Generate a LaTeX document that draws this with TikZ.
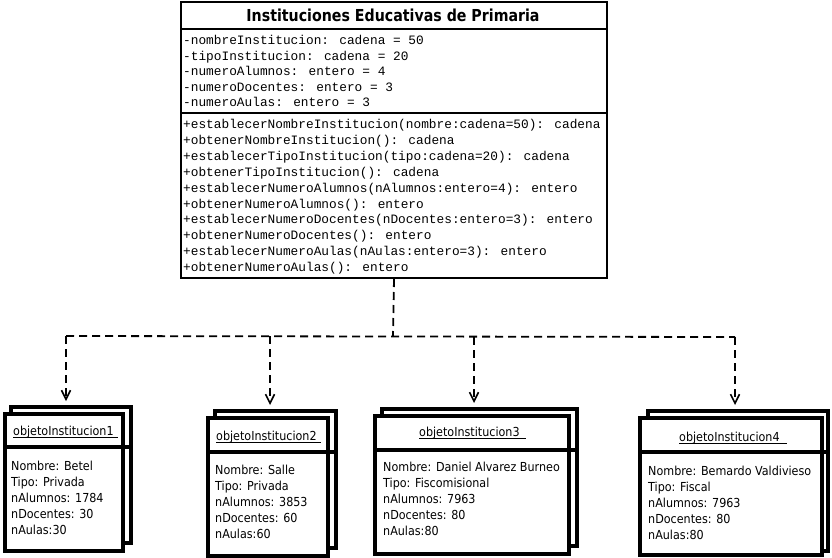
\documentclass[tikz,border=0pt]{standalone}
\usepackage{fontspec}
\usetikzlibrary{arrows.meta}
\newfontfamily\ttf{Liberation Mono}
\newfontfamily\sff[FakeStretch=0.9]{DejaVu Sans}
\newfontfamily\hdf[FakeStretch=0.86]{DejaVu Sans Bold}
\begin{document}
\begin{tikzpicture}[x=1pt,y=-1pt,
  clsbox/.style={draw, line width=2pt, fill=white, inner sep=0, anchor=north west},
  objbox/.style={draw, line width=4pt, fill=white, inner sep=0, anchor=north west},
  mono/.style={font=\ttf\fontsize{12.8}{15}\selectfont, anchor=base west, inner sep=0},
  otxt/.style={font=\sff\fontsize{12.4}{16}\selectfont, anchor=base west, inner sep=0, align=left},
  otitle/.style={font=\sff\fontsize{12.4}{16}\selectfont, anchor=base west, inner sep=0},
  dashline/.style={line width=1.8pt, dash pattern=on 8pt off 5pt},
  dep/.style={dashline, shorten >=4pt, -{Straight Barb[length=9pt,width=9pt,line width=1.6pt]}}
]
\useasboundingbox[fill=white] (0,0) rectangle (832,557);

% ---------- class box ----------
\node[clsbox, minimum width=426pt, minimum height=276pt] (cls) at (180,1) {};
\draw[line width=2pt] (cls.west |- 0,29) -- (cls.east |- 0,29);
\draw[line width=2pt] (cls.west |- 0,113) -- (cls.east |- 0,113);
\node[font=\hdf\fontsize{16.5}{18}\selectfont, anchor=base, inner sep=0] (ttl) at (393,21) {Instituciones Educativas de Primaria};

\node[mono] (a1) at (183,44.5) {-nombreInstitucion: cadena = 50};
\node[mono] (a2) at (183,60) {-tipoInstitucion: cadena = 20};
\node[mono] (a3) at (183,75.5) {-numeroAlumnos: entero = 4};
\node[mono] (a4) at (183,91) {-numeroDocentes: entero = 3};
\node[mono] (a5) at (183,106.5) {-numeroAulas: entero = 3};

\node[mono] (m1) at (183,128.5) {+establecerNombreInstitucion(nombre:cadena=50): cadena};
\node[mono] (m2) at (183,144.4) {+obtenerNombreInstitucion(): cadena};
\node[mono] (m3) at (183,160.3) {+establecerTipoInstitucion(tipo:cadena=20): cadena};
\node[mono] (m4) at (183,176.2) {+obtenerTipoInstitucion(): cadena};
\node[mono] (m5) at (183,192.1) {+establecerNumeroAlumnos(nAlumnos:entero=4): entero};
\node[mono] (m6) at (183,208) {+obtenerNumeroAlumnos(): entero};
\node[mono] (m7) at (183,223.9) {+establecerNumeroDocentes(nDocentes:entero=3): entero};
\node[mono] (m8) at (183,239.8) {+obtenerNumeroDocentes(): entero};
\node[mono] (m9) at (183,255.7) {+establecerNumeroAulas(nAulas:entero=3): entero};
\node[mono] (m10) at (183,271.6) {+obtenerNumeroAulas(): entero};

% ---------- object boxes ----------
% box 1
\node[objbox, minimum width=120pt, minimum height=136pt] (b1back) at (9,405) {};
\node[objbox, minimum width=118pt, minimum height=137pt] (b1) at (3,412) {};
\draw[line width=3.5pt] (b1.west |- 0,447) -- (b1back.east |- 0,447);
\node[otitle] (t1) at (13,435) {objetoInstitucion1};
\draw[line width=0.8pt] ([yshift=-2.5pt]t1.base west) -- ++(105,0);
\node[otxt] (o1) at (11,534) {Nombre: Betel\\Tipo: Privada\\nAlumnos: 1784\\nDocentes: 30\\nAulas:30};

% box 2
\node[objbox, minimum width=121pt, minimum height=137pt] (b2back) at (213,409) {};
\node[objbox, minimum width=120pt, minimum height=138pt] (b2) at (206,416) {};
\draw[line width=3.5pt] (b2.west |- 0,452) -- (b2back.east |- 0,452);
\node[otitle] (t2) at (216,440) {objetoInstitucion2};
\draw[line width=0.8pt] ([yshift=-2.5pt]t2.base west) -- ++(105,0);
\node[otxt] (o2) at (215,538) {Nombre: Salle\\Tipo: Privada\\nAlumnos: 3853\\nDocentes: 60\\nAulas:60};

% box 3
\node[objbox, minimum width=195pt, minimum height=137pt] (b3back) at (380,407) {};
\node[objbox, minimum width=194pt, minimum height=138pt] (b3) at (373,414) {};
\draw[line width=3.5pt] (b3.west |- 0,450) -- (b3back.east |- 0,450);
\node[otitle] (t3) at (419,436) {objetoInstitucion3};
\draw[line width=0.8pt] ([yshift=-2.5pt]t3.base west) -- ++(107,0);
\node[otxt] (o3) at (383,535) {Nombre: Daniel Alvarez Burneo\\Tipo: Fiscomisional\\nAlumnos: 7963\\nDocentes: 80\\nAulas:80};

% box 4
\node[objbox, minimum width=180pt, minimum height=140pt] (b4back) at (646,409) {};
\node[objbox, minimum width=182pt, minimum height=137pt] (b4) at (638,416) {};
\draw[line width=3.5pt] (b4.west |- 0,452) -- (b4back.east |- 0,452);
\node[otitle] (t4) at (679,441) {objetoInstitucion4};
\draw[line width=0.8pt] ([yshift=-2.5pt]t4.base west) -- ++(108,0);
\node[otxt] (o4) at (648,539) {Nombre: Bemardo Valdivieso\\Tipo: Fiscal\\nAlumnos: 7963\\nDocentes: 80\\nAulas:80};

% ---------- connectors ----------
\coordinate (j) at (393,336);
\coordinate (h1) at (66,336);
\coordinate (h2) at (270,336);
\coordinate (h3) at (474,337);
\coordinate (h4) at (735,337);
\draw[dashline] (cls.south) -- (j);
\draw[dashline] (h1) -- (h4);
\draw[dep] (h1) -- (h1 |- b1back.north);
\draw[dep] (h2) -- (h2 |- b2back.north);
\draw[dep] (h3) -- (h3 |- b3back.north);
\draw[dep] (h4) -- (h4 |- b4back.north);
\end{tikzpicture}
\end{document}
